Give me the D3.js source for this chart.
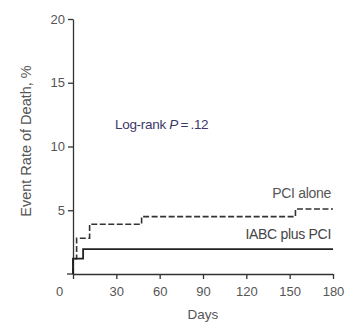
<!DOCTYPE html>
<html><head><meta charset="utf-8">
<script src="https://cdn.jsdelivr.net/npm/d3@7"></script>
<style>body{margin:0;background:#fff}svg{display:block;font-family:"Liberation Sans",Arial,sans-serif}</style>
</head><body>
<script>
const xTicks = [0, 30, 60, 90, 120, 150, 180];
const yTicks = [5, 10, 15, 20];
const iabcDays = [0, 0, 7, 180];
const iabcRate = [0, 1.2, 1.95, 1.95];
const pciDays = [0, 0, 2.5, 11.5, 47.5, 154, 180];
const pciRate = [0, 1.2, 2.8, 3.9, 4.5, 5.1, 5.1];

const W = 346, H = 325;
const svg = d3.select("body").append("svg").attr("width", W).attr("height", H);
const x = d3.scaleLinear().domain([0, 180]).range([73, 333]);
const y = d3.scaleLinear().domain([0, 20]).range([274, 19]);
const axisColor = "#333", textColor = "#555";

// y axis
const ya = svg.append("g").attr("transform", `translate(${x(0)},0)`)
  .call(d3.axisLeft(y).tickValues(yTicks).tickSize(5).tickSizeOuter(0).tickPadding(3));
ya.select(".domain").attr("stroke", axisColor).attr("stroke-width", 1.3);
ya.selectAll(".tick line").attr("stroke", axisColor).attr("stroke-width", 1.3);
ya.selectAll(".tick text").attr("fill", textColor).attr("font-size", 13).attr("font-family", "Liberation Sans, Arial, sans-serif");

// x axis
const xa = svg.append("g").attr("transform", `translate(0,${y(0)})`)
  .call(d3.axisBottom(x).tickValues(xTicks).tickSize(5).tickSizeOuter(0).tickPadding(8));
xa.select(".domain").attr("stroke", axisColor).attr("stroke-width", 1.3);
xa.selectAll(".tick line").attr("stroke", axisColor).attr("stroke-width", 1.3);
xa.selectAll(".tick text").attr("fill", textColor).attr("font-size", 13).attr("font-family", "Liberation Sans, Arial, sans-serif");
xa.selectAll(".tick").filter(d => d === 0).select("text").attr("dx", -14);
// extend x axis line left of origin
svg.append("line").attr("x1", x(0) - 6).attr("x2", x(0)).attr("y1", y(0)).attr("y2", y(0))
  .attr("stroke", axisColor).attr("stroke-width", 1.3);

// axis titles
svg.append("text").attr("x", x(90)).attr("y", 319).attr("text-anchor", "middle")
  .attr("fill", textColor).attr("font-size", 13.5).text("Days");
svg.append("text").attr("transform", `translate(31,141) rotate(-90)`).attr("text-anchor", "middle")
  .attr("fill", textColor).attr("font-size", 14.5).text("Event Rate of Death, %");

// lines
const line = d3.line().x(d => x(d[0])).y(d => y(d[1])).curve(d3.curveStepAfter);
svg.append("path").datum(pciDays.map((d, i) => [d, pciRate[i]]))
  .attr("d", line).attr("fill", "none").attr("stroke", "#333").attr("stroke-width", 1.6)
  .attr("stroke-dasharray", "6,2.5");
svg.append("path").datum(iabcDays.map((d, i) => [d, iabcRate[i]]))
  .attr("d", line).attr("fill", "none").attr("stroke", "#222").attr("stroke-width", 1.8);

// labels
svg.append("text").attr("x", 331).attr("y", 198).attr("text-anchor", "end")
  .attr("fill", "#555").attr("font-size", 14).attr("letter-spacing", -0.3).text("PCI alone");
svg.append("text").attr("x", 331).attr("y", 239).attr("text-anchor", "end")
  .attr("fill", "#444").attr("font-size", 14).attr("letter-spacing", -0.3).text("IABC plus PCI");
const lr = svg.append("text").attr("x", 115).attr("y", 129)
  .attr("fill", "#3d3768").attr("font-size", 13.5).attr("letter-spacing", -0.3);
lr.append("tspan").text("Log-rank ");
lr.append("tspan").attr("font-style", "italic").text("P");
lr.append("tspan").text("\u2009=\u2009.12");
</script>
</body></html>
